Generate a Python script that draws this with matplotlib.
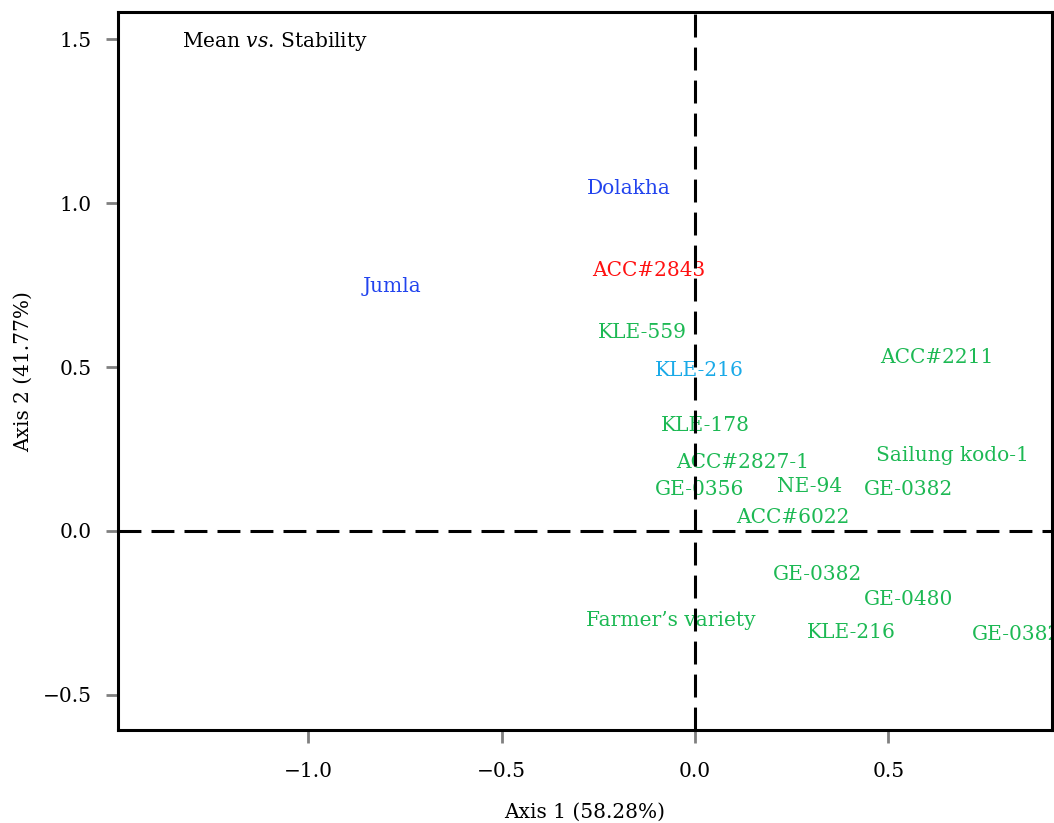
import matplotlib
matplotlib.use("Agg")
import matplotlib.pyplot as plt

# label, axis 1, axis 2, colour group
names = ["Dolakha", "Jumla", "ACC#2843", "KLE-559", "KLE-216", "KLE-178",
         "ACC#2827-1", "GE-0356", "NE-94", "GE-0382", "ACC#6022", "ACC#2211",
         "Sailung kodo-1", "GE-0382", "GE-0480", "Farmer\u2019s variety",
         "KLE-216", "GE-0382"]
axis1 = [-0.171, -0.784, -0.119, -0.137, 0.010, 0.028,
         0.124, 0.013, 0.297, 0.553, 0.253, 0.626,
         0.667, 0.318, 0.553, -0.062,
         0.403, 0.832]
axis2 = [1.046, 0.747, 0.796, 0.604, 0.491, 0.323,
         0.210, 0.128, 0.137, 0.128, 0.040, 0.530,
         0.229, -0.134, -0.210, -0.274,
         -0.311, -0.317]
groups = ["env", "env", "best", "gen", "ideal", "gen",
          "gen", "gen", "gen", "gen", "gen", "gen",
          "gen", "gen", "gen", "gen",
          "gen", "gen"]

colours = {"env": "#2244ee", "best": "#ff1111", "ideal": "#1aaae8", "gen": "#1db954"}

plt.rcParams["font.family"] = "DejaVu Serif"
plt.rcParams["mathtext.fontset"] = "dejavuserif"
fs = 14.5

fig = plt.figure(figsize=(10.54, 8.23), dpi=100)
ax = fig.add_axes([0.112, 0.113, 0.886, 0.872])

# labels are clipped to the plot box, like the original
for name, x, y, g in zip(names, axis1, axis2, groups):
    ax.text(x, y, name, color=colours[g], fontsize=fs, ha="center", va="center",
            clip_on=True, zorder=1)

ax.axhline(0, color="black", lw=2.2, ls=(0, (7.5, 3.3)), zorder=2)
ax.axvline(0, color="black", lw=2.2, ls=(0, (7.5, 3.3)), zorder=2)

ax.text(0.0685, 0.96, r"Mean $\it{vs}$. Stability", transform=ax.transAxes,
        fontsize=fs, ha="left", va="center")

ax.set_xlim(-1.492, 0.923)
ax.set_ylim(-0.607, 1.582)
ax.set_xticks([-1.0, -0.5, 0.0, 0.5])
ax.set_yticks([-0.5, 0.0, 0.5, 1.0, 1.5])
ax.tick_params(color="gray", width=2, length=9, labelsize=fs, pad=10)
ax.tick_params(axis="x", pad=14)
for s in ax.spines.values():
    s.set_linewidth(2.2)

ax.set_xlabel("Axis 1 (58.28%)", fontsize=fs, labelpad=16)
ax.set_ylabel("Axis 2 (41.77%)", fontsize=fs, labelpad=7)

fig.savefig("out.png", dpi=100)
